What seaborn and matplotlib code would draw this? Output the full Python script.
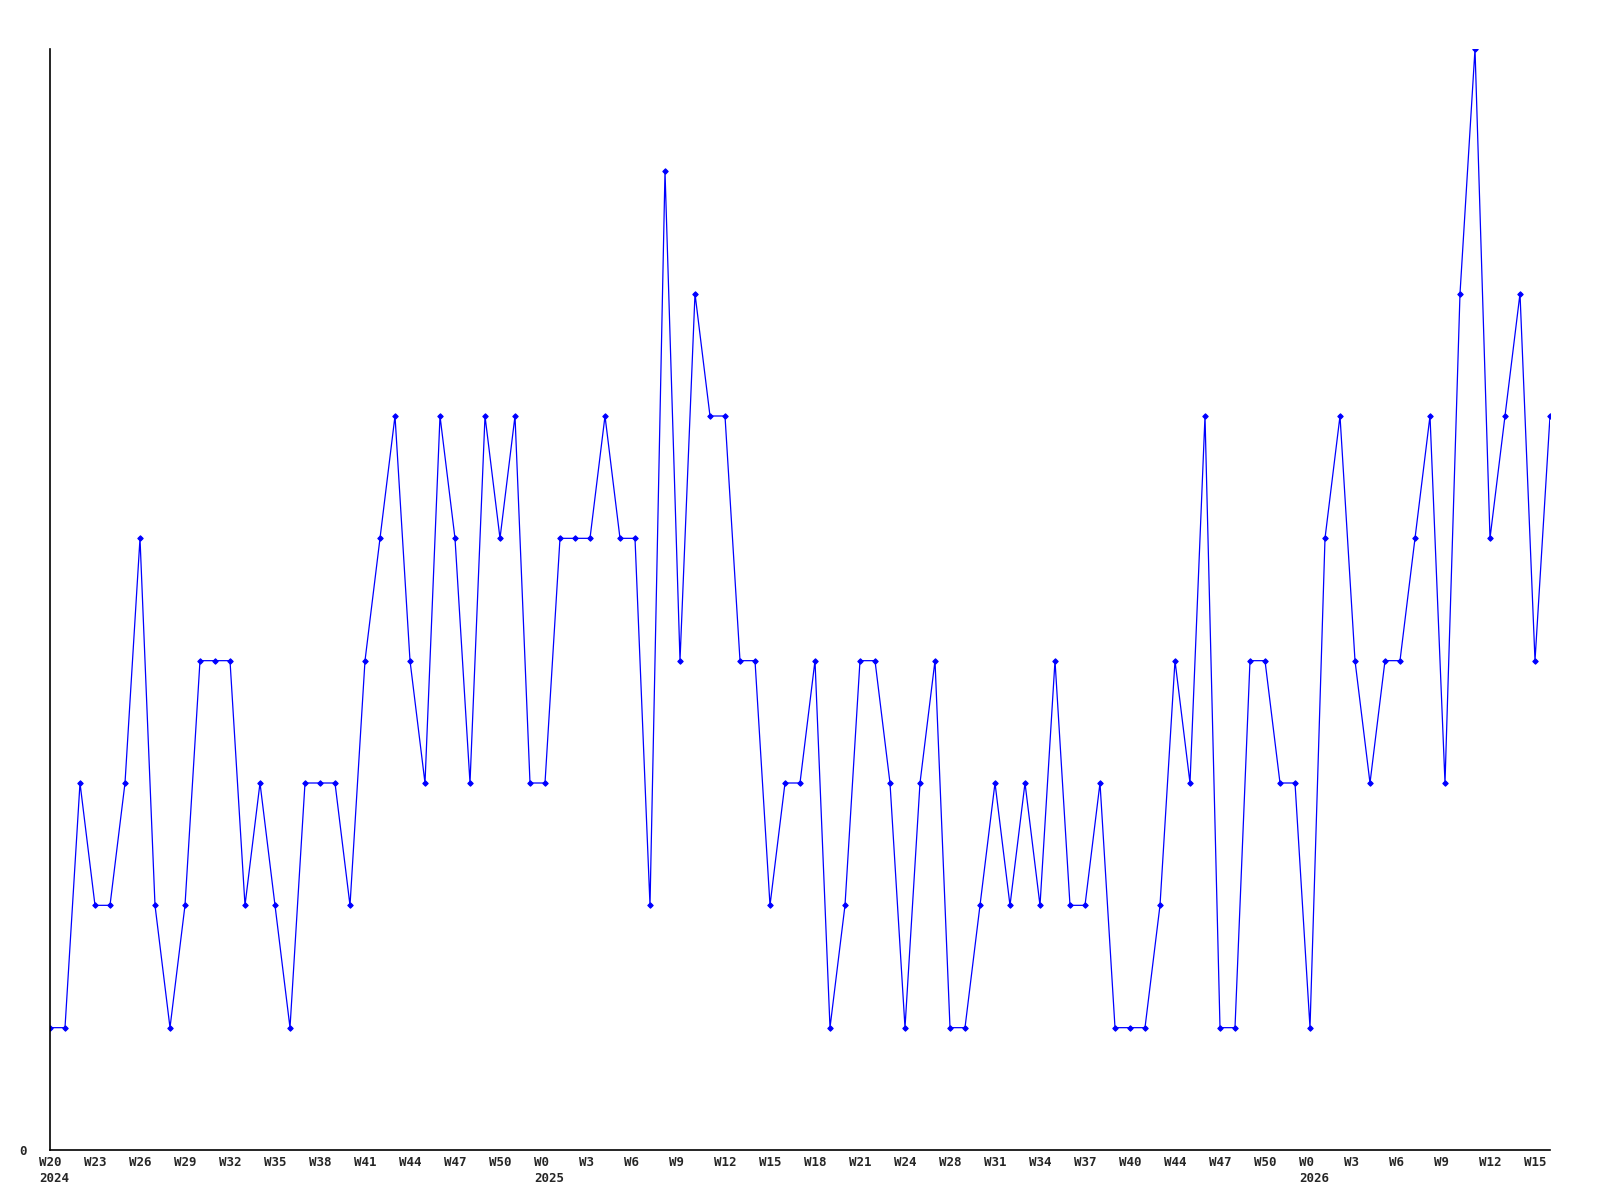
import matplotlib
matplotlib.use("Agg")
import matplotlib.pyplot as plt
import matplotlib.transforms as mtransforms
import seaborn as sns
import pandas as pd

# weekly counts, W20 2024 .. W16 2026 (one value per week)
values = [1, 1, 3, 2, 2, 3, 5, 2, 1, 2, 4, 4, 4, 2, 3, 2, 1, 3, 3, 3,
          2, 4, 5, 6, 4, 3, 6, 5, 3, 6, 5, 6, 3, 3, 5, 5, 5, 6, 5, 5,
          2, 8, 4, 7, 6, 6, 4, 4, 2, 3, 3, 4, 1, 2, 4, 4, 3, 1, 3, 4,
          1, 1, 2, 3, 2, 3, 2, 4, 2, 2, 3, 1, 1, 1, 2, 4, 3, 6, 1, 1,
          4, 4, 3, 3, 1, 5, 6, 4, 3, 4, 4, 5, 6, 3, 7, 9, 5, 6, 7, 4, 6]

# tick labels, shown on every third week
tick_labels = ["W20", "W23", "W26", "W29", "W32", "W35", "W38", "W41",
               "W44", "W47", "W50", "W0", "W3", "W6", "W9", "W12", "W15",
               "W18", "W21", "W24", "W28", "W31", "W34", "W37", "W40", "W44",
               "W47", "W50", "W0", "W3", "W6", "W9", "W12", "W15"]
# year labels: (index into tick_labels, year)
year_ticks = [0, 11, 28]
year_labels = ["2024", "2025", "2026"]
tick_step = 3

df = pd.DataFrame({"week": range(len(values)), "count": values})

sns.set_style("white")
plt.rcParams["font.family"] = ["DejaVu Sans Mono"]
plt.rcParams["font.weight"] = "bold"

fig = plt.figure(figsize=(16, 12), dpi=100)
ax = fig.add_axes([50 / 1600, 1 - 1150 / 1200, 1500 / 1600, 1101 / 1200])

sns.lineplot(data=df, x="week", y="count", ax=ax, color="#0000FF",
             linewidth=0.9, marker="D", markersize=2.8,
             markeredgecolor="#0000FF", markerfacecolor="#0000FF")

ax.set_xlim(0, len(values) - 1)
ax.set_ylim(0, max(values))
ax.set_xlabel("")
ax.set_ylabel("")

tick_pos = list(range(0, len(values), tick_step))[:len(tick_labels)]
ax.set_xticks(tick_pos)
ax.set_xticklabels(tick_labels, fontsize=9, fontweight="bold")
ax.set_yticks([0])
ax.set_yticklabels(["0"], fontsize=9, fontweight="bold")
ax.tick_params(axis="x", length=0, pad=4)
ax.tick_params(axis="y", length=0, pad=17)

shift = mtransforms.ScaledTranslation(-8 / 72, 0, fig.dpi_scale_trans)
for lab in ax.get_xticklabels():
    lab.set_horizontalalignment("left")
    lab.set_transform(lab.get_transform() + shift)

for ti, yr in zip(year_ticks, year_labels):
    ax.annotate(yr, xy=(tick_pos[ti], 0), xycoords=("data", "axes fraction"),
                xytext=(-8, -16), textcoords="offset points",
                ha="left", va="top", fontsize=9, fontweight="bold",
                annotation_clip=False)

for s in ["top", "right"]:
    ax.spines[s].set_visible(False)
for s in ["left", "bottom"]:
    ax.spines[s].set_color("black")
    ax.spines[s].set_linewidth(1.2)
ax.grid(False)

fig.savefig("out.png", dpi=100, facecolor="white")
